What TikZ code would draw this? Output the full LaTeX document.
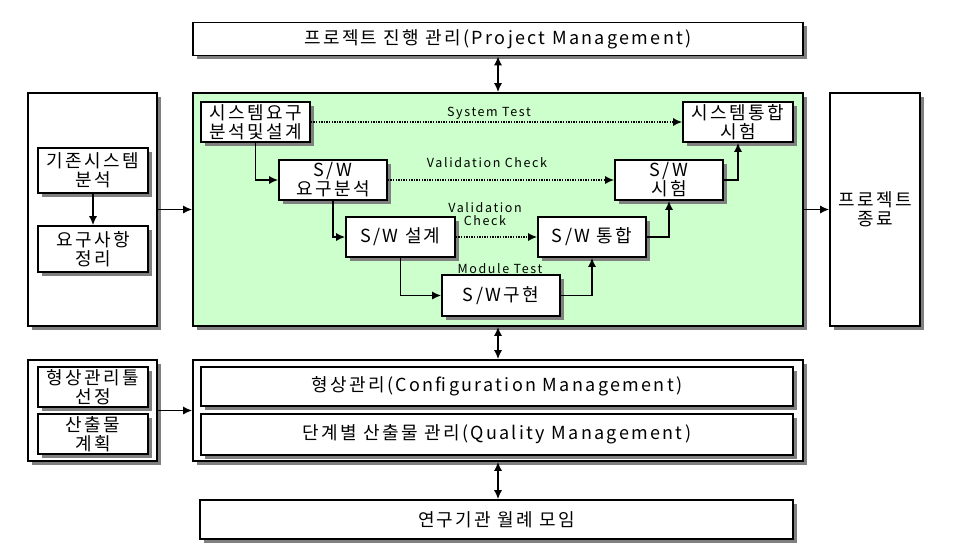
\documentclass[tikz,border=0pt]{standalone}
\usepackage{fontspec}
\setmainfont{Noto Sans CJK KR}[LetterSpace=13]
\usepackage{tikz}
\usetikzlibrary{arrows.meta,shadows}
\definecolor{stagegreen}{RGB}{204,255,204}
\def\bigfont{\fontsize{18}{19}\selectfont}
\def\smallfont{\fontsize{12.5}{13}\selectfont}
\def\tip{Latex[length=9pt,width=8pt]}

\begin{document}
\begin{tikzpicture}[x=1pt,y=-1pt,
  box/.style={draw,line width=1.6pt,fill=white,inner sep=0pt,align=center,font=\bigfont,
    drop shadow={shadow xshift=3.5pt,shadow yshift=-3.5pt,fill=black!50,opacity=1}},
  flow/.style={line width=1.5pt,-{\tip}},
  twoway/.style={line width=1.5pt,{\tip}-{\tip}},
  check/.style={line width=1.5pt,dash pattern=on 1.4pt off 1.2pt,-{\tip}},
  tag/.style={inner sep=0pt,align=center,font=\smallfont}]
\fill[white] (0,0) rectangle (956,555);

% project management on top
\node[box,minimum width=610,minimum height=33] (pm) at (498,39) {프로젝트 진행 관리(Project Management)};

% left column
\node[box,minimum width=129,minimum height=233] (left) at (92.5,209.5) {};
\node[box,minimum width=110,minimum height=45] (exist) at (93,170.5) {기존시스템\\분석};
\node[box,minimum width=110,minimum height=46] (reqs) at (93,249) {요구사항\\정리};

% the V of stages
\node[box,fill=stagegreen,minimum width=610,minimum height=233] (stages) at (498,209.5) {};
\node[box,minimum width=109,minimum height=40] (sysreq) at (255.5,122) {시스템요구\\분석및설계};
\node[box,minimum width=108,minimum height=40] (swreq) at (333,180) {S/W\\요구분석};
\node[box,minimum width=109,minimum height=40] (swdes) at (400.5,237) {S/W 설계};
\node[box,minimum width=118,minimum height=41] (swimpl) at (501,295.5) {S/W구현};
\node[box,minimum width=108,minimum height=40] (swint) at (592,237) {S/W 통합};
\node[box,minimum width=108,minimum height=40] (swtest) at (669,180) {S/W\\시험};
\node[box,minimum width=110,minimum height=40] (systest) at (738,122) {시스템통합\\시험};

\node[tag] (systestlbl) at (489,113) {System Test};
\node[tag] (vallbl) at (487,163) {Validation Check};
\node[tag] (val2lbl) at (485,214) {Validation\\Check};
\node[tag] (modlbl) at (500,269) {Module Test};

% right column
\node[box,minimum width=90,minimum height=233] (finish) at (875,209.5) {프로젝트\\종료};

% management below
\node[box,minimum width=129,minimum height=101] (prep) at (92.5,410.5) {};
\node[box,minimum width=110,minimum height=40] (tool) at (93,387) {형상관리툴\\선정};
\node[box,minimum width=110,minimum height=40] (plan) at (93,434) {산출물\\계획};
\node[box,minimum width=610,minimum height=101] (mgmt) at (498,410.5) {};
\node[box,minimum width=592,minimum height=39] (cm) at (497,386.5) {형상관리(Configuration Management)};
\node[box,minimum width=592,minimum height=41] (qm) at (497,434.5) {단계별 산출물 관리(Quality Management)};
\node[box,minimum width=593,minimum height=39] (meeting) at (496.5,519.5) {연구기관 월례 모임};

\draw[twoway] (pm) -- (stages);
\draw[flow] (exist) -- (reqs);
\draw[flow] (left) -- (stages);
\draw[flow] (stages) -- (finish);

\draw[flow] (sysreq) |- (swreq);
\draw[flow] (swreq) |- (swdes);
\draw[flow] (swdes) |- (swimpl);
\draw[flow] (swimpl) -| (swint);
\draw[flow] (swint) -| (swtest);
\draw[flow] (swtest) -| (systest);
\draw[check] (sysreq) -- (systest);
\draw[check] (swreq) -- (swtest);
\draw[check] (swdes) -- (swint);

\draw[twoway] (stages) -- (mgmt);
\draw[flow] (prep) -- (mgmt);
\draw[twoway] (mgmt.south) -- (mgmt.south |- meeting.north);
\end{tikzpicture}
\end{document}
